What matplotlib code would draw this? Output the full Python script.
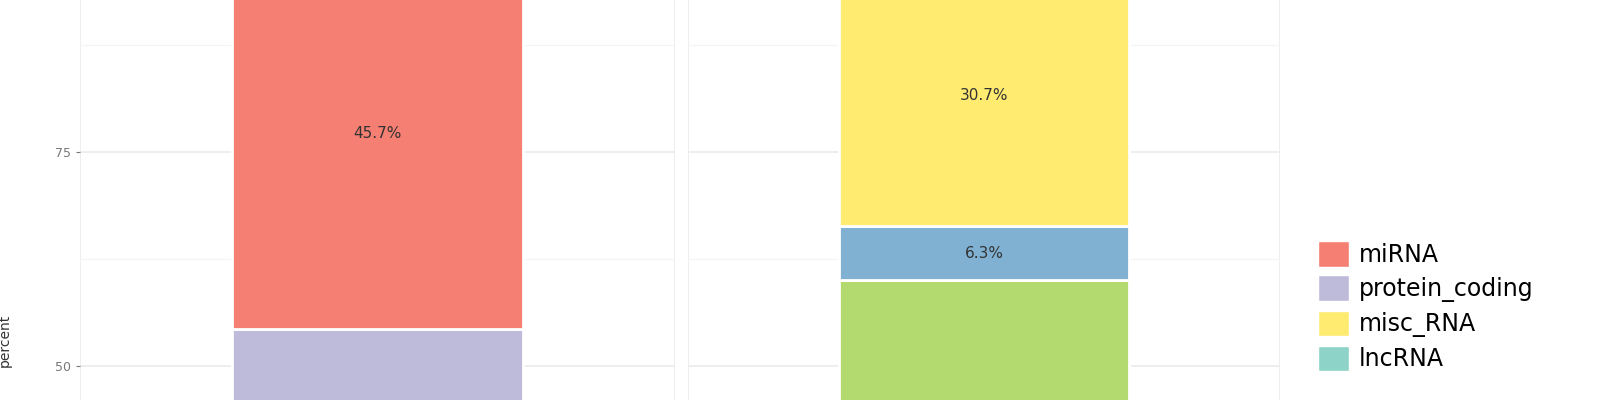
import matplotlib.pyplot as plt
from matplotlib.patches import Patch

# Sample data (percent per biotype, stacked bottom -> top)
biotypes = ['miRNA', 'protein_coding', 'misc_RNA', 'lncRNA', 'snoRNA', 'snRNA', 'other']
colors = {'miRNA': '#F47F72', 'protein_coding': '#BEBADA', 'misc_RNA': '#FFEB6F',
          'lncRNA': '#8DD3C7', 'snoRNA': '#80B1D3', 'snRNA': '#B3DA6E', 'other': '#FDB462'}
left_stack = ['lncRNA', 'protein_coding', 'miRNA']
left_vals = [29.3, 25.0, 45.7]
right_stack = ['lncRNA', 'snRNA', 'snoRNA', 'misc_RNA', 'other']
right_vals = [30.0, 30.0, 6.3, 30.7, 3.0]

YMIN, YMAX = 46.0, 92.8

plt.rcParams['font.family'] = 'DejaVu Sans'
fig = plt.figure(figsize=(16, 4), dpi=100)
ax1 = fig.add_axes([0.05, 0.0, 0.372, 1.0])
ax2 = fig.add_axes([0.43, 0.0, 0.37, 1.0])

for ax, stack, vals in [(ax1, left_stack, left_vals), (ax2, right_stack, right_vals)]:
    bottom = 0
    for name, v in zip(stack, vals):
        ax.bar(0, v, bottom=bottom, width=0.5, color=colors[name],
               edgecolor='white', linewidth=2, zorder=3)
        mid = bottom + v / 2
        if v > 5 and YMIN + 2 < mid < YMAX - 2:
            ax.text(0, mid, f'{v:.1f}%', ha='center', va='center',
                    fontsize=11, color='#333333', zorder=4)
        bottom += v
    ax.set_xlim(-0.51, 0.51)
    ax.set_ylim(YMIN, YMAX)
    ax.set_yticks([50, 75])
    ax.set_yticks([62.5, 87.5], minor=True)
    ax.set_xticks([-0.51, 0.51])
    ax.set_xticklabels([])
    ax.grid(True, which='major', color='#EBEBEB', linewidth=1.2, zorder=0)
    ax.grid(True, which='minor', axis='y', color='#F4F4F4', linewidth=0.8, zorder=0)
    ax.tick_params(which='both', length=0)
    for s in ax.spines.values():
        s.set_visible(False)

ax1.tick_params(axis='y', labelsize=9, labelcolor='#777777', length=3, color='#777777')
ax1.set_ylabel('percent', fontsize=10, color='#333333')
ax1.yaxis.set_label_coords(-0.115, 0.15)
ax2.set_yticklabels([])

handles = [Patch(facecolor=colors[b], edgecolor='white') for b in biotypes[:4]]
fig.legend(handles, biotypes[:4], loc='upper left', bbox_to_anchor=(0.818, 0.42),
           frameon=False, fontsize=17, handlelength=1.3, handleheight=1.3,
           labelspacing=0.35, handletextpad=0.4, borderaxespad=0)

fig.savefig('out.png', dpi=100)
